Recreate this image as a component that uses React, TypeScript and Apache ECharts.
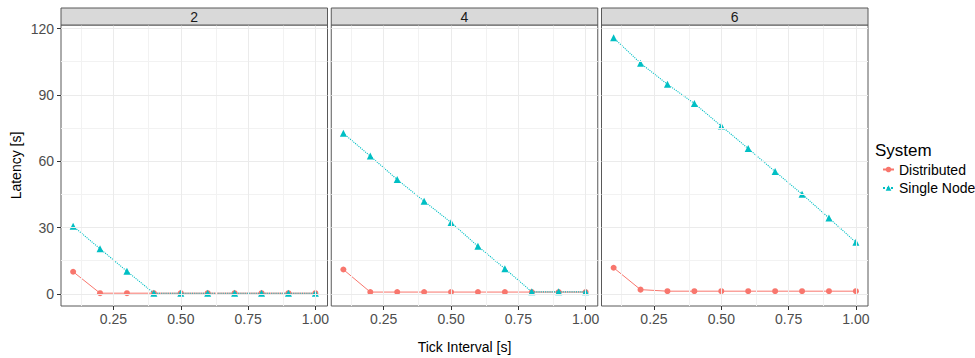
import React, { useEffect, useRef } from "react";
import * as echarts from "echarts";

const intervals = [0.1, 0.2, 0.3, 0.4, 0.5, 0.6, 0.7, 0.8, 0.9, 1.0];
const panelLabels = ["2", "4", "6"];

const distributed2 = [10.0, 0.3, 0.3, 0.3, 0.3, 0.3, 0.3, 0.3, 0.3, 0.3];
const singleNode2 = [30.6, 20.4, 10.2, 0.3, 0.3, 0.3, 0.3, 0.3, 0.3, 0.3];
const distributed4 = [11.0, 0.8, 0.8, 0.8, 0.8, 0.8, 0.8, 0.8, 0.8, 0.8];
const singleNode4 = [72.6, 62.3, 51.7, 41.9, 32.3, 21.5, 11.4, 0.9, 0.9, 0.9];
const distributed6 = [11.8, 1.9, 1.2, 1.2, 1.2, 1.2, 1.2, 1.2, 1.2, 1.2];
const singleNode6 = [115.8, 104.3, 94.8, 86.1, 75.9, 65.7, 55.3, 45.1, 34.3, 23.3];

const yTicks = [0, 30, 60, 90, 120];
const yMinor = [15, 45, 75, 105];
const xTicks = [0.25, 0.5, 0.75, 1.0];
const xMinor = [0.125, 0.375, 0.625, 0.875];

const distributedByPanel = [distributed2, distributed4, distributed6];
const singleByPanel = [singleNode2, singleNode4, singleNode6];

const FONT = "'Liberation Sans', Arial, Helvetica, sans-serif";
const RED = "#F8766D";
const CYAN = "#00BFC4";
const BORDER = "#595959";

export default function App() {
  const ref = useRef<HTMLDivElement>(null);

  useEffect(() => {
    if (!ref.current) return;
    const chart = echarts.init(ref.current, undefined, { renderer: "svg" });

    const gridLeft = 61;
    const gridW = 266.5;
    const gap = 3.75;
    const gridTop = 25;
    const gridH = 281;
    const stripTop = 8;

    const grids: any[] = [];
    const xAxes: any[] = [];
    const yAxes: any[] = [];
    const series: any[] = [];
    const graphics: any[] = [];

    panelLabels.forEach((lab, i) => {
      const left = gridLeft + i * (gridW + gap);
      const first = i === 0;
      grids.push({
        left,
        top: gridTop,
        width: gridW,
        height: gridH,
        show: true,
        backgroundColor: "#ffffff",
        borderColor: BORDER,
        borderWidth: 1,
        outerBoundsMode: "none",
        containLabel: false,
      });
      xAxes.push({
        type: "value",
        gridIndex: i,
        min: 0.055,
        max: 1.045,
        splitLine: { show: false },
        axisLine: { show: false, onZero: false },
        axisTick: {
          show: true,
          customValues: xTicks,
          length: 4,
          lineStyle: { color: "#333333", width: 1 },
        },
        axisLabel: {
          customValues: xTicks,
          formatter: (v: number) => v.toFixed(2),
          color: "#4D4D4D",
          fontSize: 14,
          margin: 6,
          fontFamily: FONT,
        },
      });
      yAxes.push({
        type: "value",
        gridIndex: i,
        min: -5.5,
        max: 121.6,
        splitLine: { show: false },
        axisLine: { show: false, onZero: false },
        axisTick: {
          show: first,
          customValues: yTicks,
          length: 4,
          lineStyle: { color: "#333333", width: 1 },
        },
        axisLabel: {
          show: first,
          customValues: yTicks,
          color: "#4D4D4D",
          fontSize: 14,
          margin: 7,
          fontFamily: FONT,
        },
      });

      const minorStyle = { color: "#F2F2F2", width: 1, type: "solid" };
      const majorStyle = { color: "#EBEBEB", width: 1, type: "solid" };
      series.push({
        type: "line",
        xAxisIndex: i,
        yAxisIndex: i,
        data: [],
        z: 1,
        silent: true,
        markLine: {
          silent: true,
          animation: false,
          symbol: ["none", "none"],
          label: { show: false },
          emphasis: { disabled: true },
          data: [
            ...yMinor.map((v) => ({ yAxis: v, lineStyle: minorStyle })),
            ...xMinor.map((v) => ({ xAxis: v, lineStyle: minorStyle })),
            ...yTicks.map((v) => ({ yAxis: v, lineStyle: majorStyle })),
            ...xTicks.map((v) => ({ xAxis: v, lineStyle: majorStyle })),
          ],
        },
      });

      series.push({
        name: "Distributed",
        type: "line",
        xAxisIndex: i,
        yAxisIndex: i,
        data: intervals.map((x, k) => [x, distributedByPanel[i][k]]),
        symbol: "circle",
        symbolSize: 6,
        itemStyle: { color: RED },
        lineStyle: { color: RED, width: 1, type: "solid" },
        z: 3,
      });
      series.push({
        name: "Single Node",
        type: "line",
        xAxisIndex: i,
        yAxisIndex: i,
        data: intervals.map((x, k) => [x, singleByPanel[i][k]]),
        symbol: "triangle",
        symbolSize: 7,
        itemStyle: { color: CYAN },
        lineStyle: { color: CYAN, width: 1.1, type: "dotted" },
        z: 4,
      });

      graphics.push({
        type: "rect",
        shape: { x: left, y: stripTop, width: gridW, height: gridTop - stripTop },
        style: { fill: "#D9D9D9", stroke: BORDER, lineWidth: 1 },
        z: 10,
      });
      graphics.push({
        type: "text",
        x: left + gridW / 2,
        y: (stripTop + gridTop) / 2 + 0.5,
        style: {
          text: lab,
          fill: "#1A1A1A",
          fontSize: 14,
          fontFamily: FONT,
          align: "center",
          verticalAlign: "middle",
        },
        z: 11,
      });
    });

    const panelsRight = gridLeft + 3 * gridW + 2 * gap;
    graphics.push({
      type: "text",
      x: (gridLeft + panelsRight) / 2,
      y: 347,
      style: {
        text: "Tick Interval [s]",
        fill: "#000000",
        fontSize: 14,
        fontFamily: FONT,
        align: "center",
        verticalAlign: "middle",
      },
    });
    graphics.push({
      type: "text",
      x: 16,
      y: gridTop + gridH / 2,
      rotation: Math.PI / 2,
      style: {
        text: "Latency [s]",
        fill: "#000000",
        fontSize: 14,
        fontFamily: FONT,
        align: "center",
        verticalAlign: "middle",
      },
    });
    graphics.push({
      type: "text",
      x: 875,
      y: 150,
      style: {
        text: "System",
        fill: "#000000",
        fontSize: 17,
        fontFamily: FONT,
        align: "left",
        verticalAlign: "middle",
      },
    });

    chart.setOption({
      animation: false,
      backgroundColor: "#ffffff",
      textStyle: { fontFamily: FONT },
      grid: grids,
      xAxis: xAxes,
      yAxis: yAxes,
      series,
      graphic: graphics,
      legend: {
        data: ["Distributed", "Single Node"],
        orient: "vertical",
        left: 877,
        top: 157.5,
        itemWidth: 11,
        itemHeight: 7,
        itemGap: 4.5,
        selectedMode: false,
        textStyle: { fontSize: 14, color: "#000000", fontFamily: FONT },
      },
    });

    return () => {
      chart.dispose();
    };
  }, []);

  return (
    <div
      ref={ref}
      style={{ position: "absolute", left: 0, top: 0, width: 975, height: 358 }}
    />
  );
}
